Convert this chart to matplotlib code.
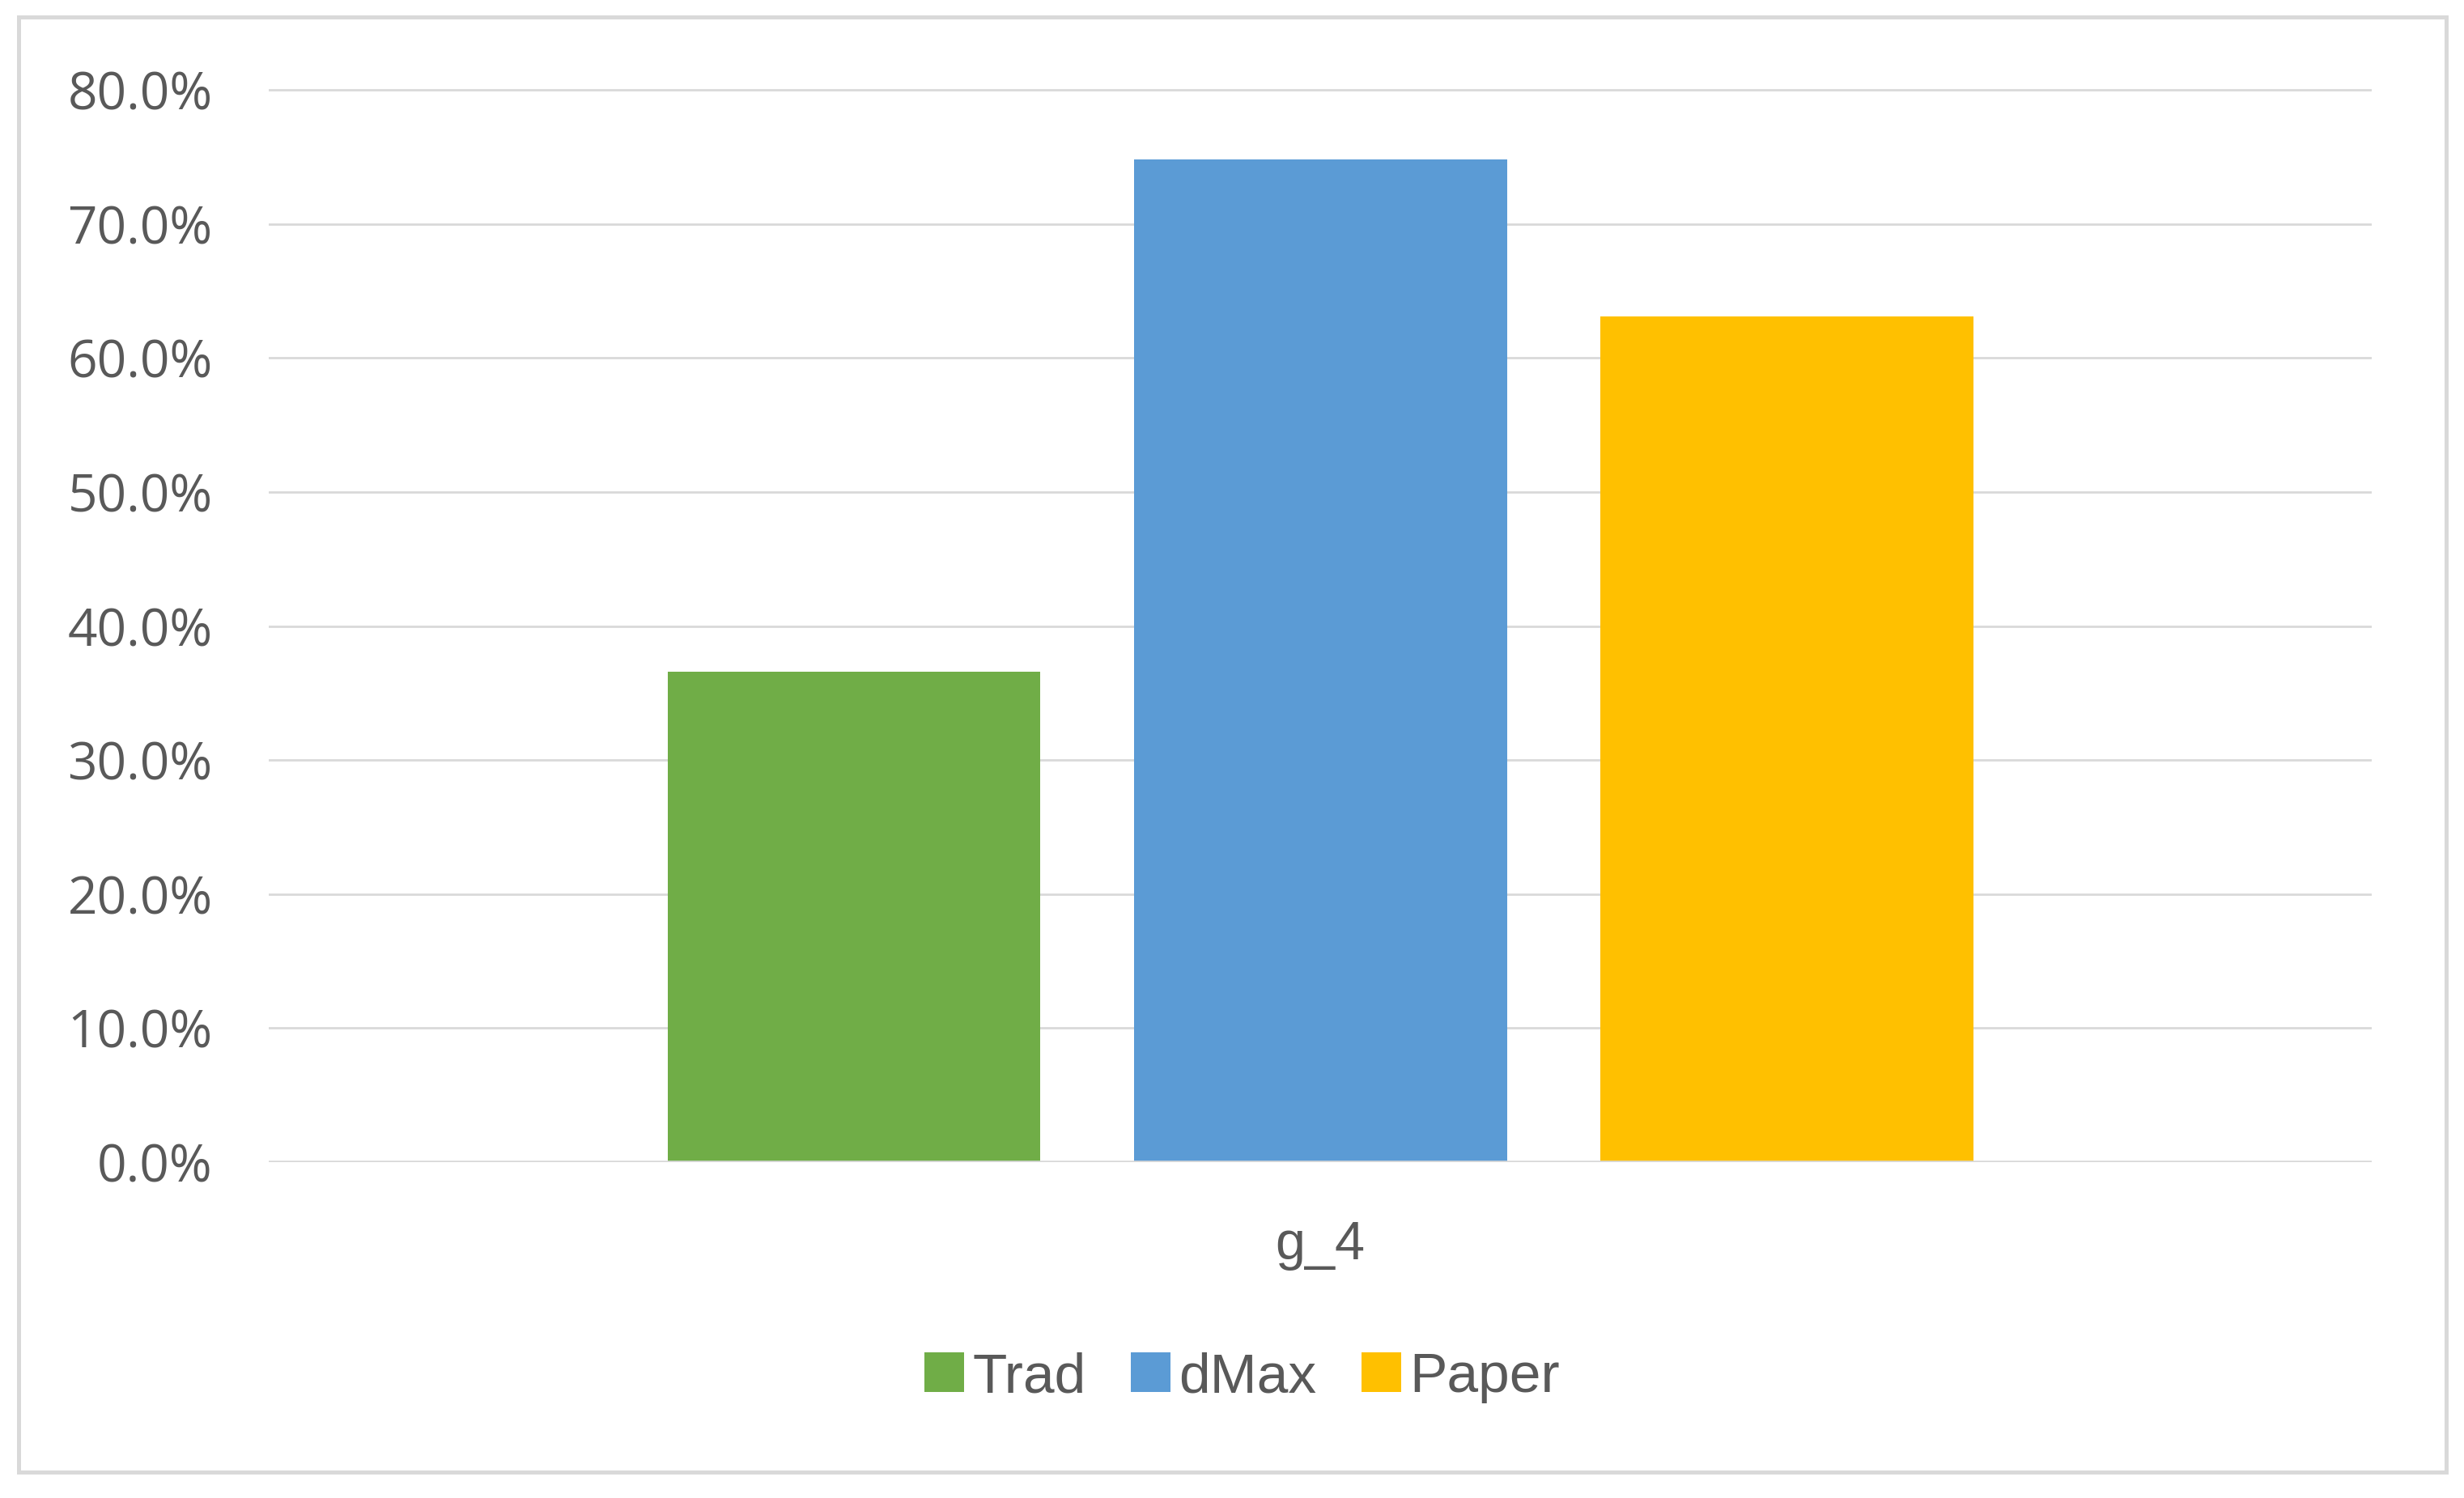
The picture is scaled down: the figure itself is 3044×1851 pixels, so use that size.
import matplotlib.pyplot as plt
from matplotlib.patches import Rectangle
from matplotlib.ticker import PercentFormatter

# data
categories = ['g_4']
series_names = ['Trad', 'dMax', 'Paper']
series_values = [0.366, 0.748, 0.631]
series_colors = ['#70AD47', '#5B9BD5', '#FFC000']
y_ticks = [0.0, 0.1, 0.2, 0.3, 0.4, 0.5, 0.6, 0.7, 0.8]

text_grey = '#595959'
grid_grey = '#D9D9D9'
narrow = ['Liberation Sans Narrow', 'Liberation Sans', 'DejaVu Sans']

fig = plt.figure(figsize=(15.22, 9.255), dpi=200)
fig.patch.set_facecolor('white')

# chart border
fig.patches.append(Rectangle((23 / 3044, 1 - 1819 / 1851), (3022 - 23) / 3044, (1819 - 21) / 1851,
                             transform=fig.transFigure, fill=False,
                             edgecolor=grid_grey, linewidth=1.8))

ax = fig.add_axes([0.1091, 0.2242, 0.8535, 0.7336])

bar_w = 0.8
offsets = [-1, 0, 1]
for name, val, col, off in zip(series_names, series_values, series_colors, offsets):
    ax.bar(off, val, width=bar_w, color=col, label=name, zorder=3)

ax.set_xlim(-2.255, 2.255)
ax.set_ylim(0, 0.82)
ax.set_yticks(y_ticks)
ax.yaxis.set_major_formatter(PercentFormatter(1.0, decimals=1))
ax.set_xticks([0])
ax.set_xticklabels(categories, fontsize=24, color=text_grey, family=narrow)

for s in ax.spines.values():
    s.set_visible(False)
ax.grid(axis='y', color=grid_grey, linewidth=1.0, zorder=0)
ax.axhline(0, color=grid_grey, linewidth=1.3, zorder=4)

ax.tick_params(axis='y', length=0, pad=25, labelsize=23, labelcolor=text_grey)
ax.tick_params(axis='x', length=0, pad=26)
for lbl in ax.get_yticklabels():
    lbl.set_family(['Open Sans', 'DejaVu Sans'])

fig.legend(loc='center', bbox_to_anchor=(0.5041, 1 - 1702 / 1851), ncol=3, frameon=False,
           prop={'family': narrow, 'size': 25}, labelcolor=text_grey,
           handlelength=0.7, handleheight=0.7, handletextpad=0.15, columnspacing=0.8)

fig.savefig('out.png', dpi=200, facecolor='white')
